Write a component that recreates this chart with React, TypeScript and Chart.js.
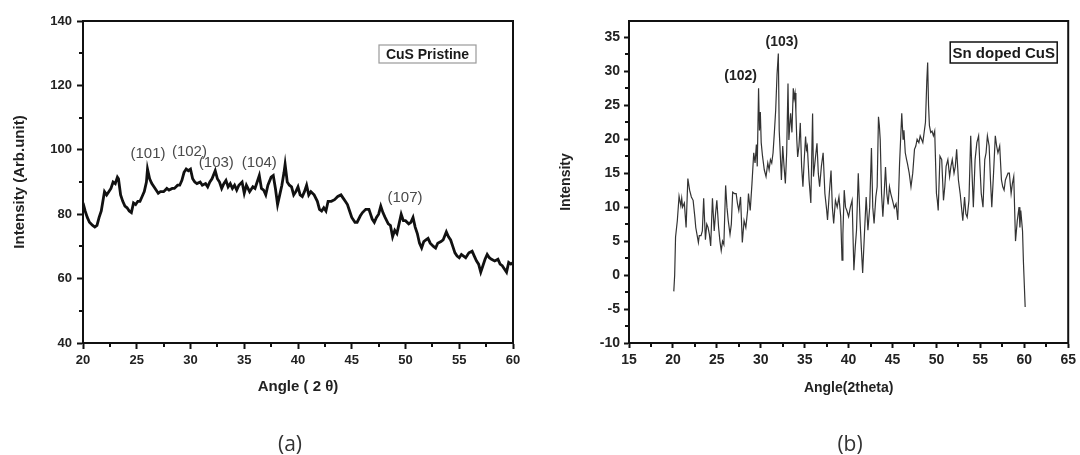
import React, { useEffect, useRef } from "react";
import { Chart, registerables } from "chart.js";

Chart.register(...registerables);

// ---------- data: (a) CuS Pristine ----------
const pristineAngle = [
  20.0, 20.2, 20.4, 20.6, 20.9, 21.1, 21.3, 21.5, 21.7, 21.9, 22.0, 22.2, 22.4, 22.6, 22.8, 23.0, 23.2, 23.3, 23.5, 23.7,
  23.9, 24.1, 24.3, 24.5, 24.7, 24.9, 25.1, 25.3, 25.5, 25.7, 25.9, 26.0, 26.2, 26.4, 26.6, 26.8, 27.0, 27.2, 27.5, 27.8,
  28.0, 28.3, 28.5, 28.8, 29.0, 29.2, 29.4, 29.6, 29.8, 30.0, 30.2, 30.4, 30.6, 30.9, 31.1, 31.4, 31.6, 31.8, 32.0, 32.3,
  32.5, 32.7, 32.9, 33.1, 33.3, 33.5, 33.7, 33.9, 34.1, 34.3, 34.5, 34.8, 35.0, 35.2, 35.5, 35.8, 36.0, 36.2, 36.4, 36.6,
  36.8, 37.0, 37.2, 37.5, 37.7, 37.9, 38.1, 38.3, 38.5, 38.7, 38.8, 39.0, 39.2, 39.4, 39.6, 39.8, 40.0, 40.2, 40.4, 40.6,
  40.8, 41.0, 41.2, 41.5, 41.8, 42.0, 42.2, 42.4, 42.6, 42.8, 43.1, 43.4, 43.7, 44.0, 44.2, 44.4, 44.6, 44.8, 45.0, 45.3,
  45.5, 45.8, 46.0, 46.3, 46.6, 46.9, 47.1, 47.3, 47.5, 47.7, 47.9, 48.1, 48.4, 48.6, 48.8, 49.0, 49.2, 49.4, 49.6, 49.8,
  50.0, 50.3, 50.5, 50.7, 50.9, 51.1, 51.3, 51.5, 51.7, 51.9, 52.1, 52.3, 52.6, 52.8, 53.0, 53.3, 53.5, 53.8, 54.0, 54.2,
  54.4, 54.6, 54.8, 55.0, 55.2, 55.4, 55.6, 55.9, 56.2, 56.4, 56.6, 56.8, 57.0, 57.2, 57.4, 57.6, 57.8, 58.0, 58.3, 58.6,
  58.8, 59.0, 59.2, 59.4, 59.6, 59.8, 60.0,
];
const pristineIntensity = [
  83.5, 81, 79, 77.5, 76.5, 76, 76.5, 79, 81, 85, 87, 86, 87, 88, 90, 89.5, 91.5, 91, 86, 84,
  82.5, 82, 81, 80.5, 83.5, 83, 84, 84, 85.5, 87, 90, 94, 91, 89.5, 88.5, 87.5, 86.5, 87, 87, 88,
  87.5, 88, 88, 89, 89, 90.5, 93, 94, 93.5, 94, 91, 90, 89.5, 90, 89, 89.5, 88.5, 90, 91, 93.5,
  91, 90, 88, 89.5, 90.5, 88.5, 89.5, 88, 89, 87.5, 89, 90, 86.5, 89, 87, 88.5, 88, 90, 92, 88,
  87.5, 86, 89, 91.5, 92, 88, 83, 86, 89, 93, 95.5, 90, 89, 88.5, 86, 87, 88.5, 86, 85.5, 87,
  89, 86, 87, 86, 84, 81.5, 81, 82, 81, 84, 84, 84.5, 85.5, 86, 85, 84, 83, 81, 79, 77.5,
  77.5, 79.5, 80.5, 81.5, 81.5, 78.5, 77.5, 79, 80, 82.5, 80.5, 79, 77, 76.5, 73, 75, 74, 77, 80, 78,
  78, 77, 77.5, 79, 76, 74, 71, 69.5, 71.5, 72, 72.5, 71, 70, 69.5, 71, 71.5, 72, 74.5, 73, 72,
  70, 68, 67, 66.5, 67.5, 67, 66.5, 68, 68.5, 67, 65.5, 64.5, 62, 64, 66, 67.5, 66.5, 66, 65.5, 66,
  64.5, 64, 63, 62, 65, 64.5, 65,
];
const pristinePeakLabels = ["(101)", "(102)", "(103)", "(104)", "(107)"];
const pristinePeakAngle = [26.05, 29.9, 32.4, 36.4, 49.95];
const pristinePeakIntensity = [98.6, 99.3, 95.9, 95.9, 85.2];

// ---------- data: (b) Sn doped CuS ----------
const dopedAngle = [
  20.1, 20.2, 20.3, 20.5, 20.7, 20.9, 21.0, 21.1, 21.3, 21.5, 21.7, 21.9, 22.1, 22.3, 22.5, 22.6, 22.9, 23.0, 23.2, 23.35,
  23.5, 23.7, 23.85, 24.0, 24.15, 24.3, 24.5, 24.7, 24.85, 25.0, 25.2, 25.35, 25.5, 25.65, 25.8, 26.0, 26.15, 26.3, 26.5, 26.65,
  26.8, 27.0, 27.2, 27.35, 27.5, 27.7, 27.9, 28.1, 28.3, 28.5, 28.6, 28.8, 29.0,
  29.2, 29.35, 29.5, 29.6, 29.75, 29.85, 29.95, 30.05, 30.2, 30.4, 30.6, 30.8, 30.95, 31.1, 31.25, 31.4, 31.55, 31.7, 31.85, 32.0,
  32.1, 32.25, 32.35, 32.5, 32.65, 32.8, 32.95, 33.1, 33.2, 33.3, 33.4, 33.55, 33.7, 33.8, 33.9, 34.0, 34.1, 34.2, 34.35, 34.5,
  34.65, 34.8, 34.95, 35.1, 35.2, 35.3, 35.5, 35.7, 35.9, 36.0, 36.2, 36.4, 36.55, 36.7, 36.9, 37.1, 37.3, 37.5, 37.6, 37.8,
  38.0, 38.15, 38.3, 38.5, 38.7, 38.9, 39.1, 39.25, 39.35, 39.5, 39.65, 39.8, 40.0, 40.2, 40.4, 40.6, 40.75, 40.9, 41.1, 41.3,
  41.45, 41.6, 41.8, 42.0, 42.2, 42.4, 42.6, 42.75, 42.9, 43.1, 43.25, 43.4, 43.5, 43.6, 43.75, 43.9, 44.05, 44.2, 44.35, 44.5,
  44.65, 44.8, 45.0, 45.2, 45.4, 45.6, 45.8, 46.05, 46.2, 46.3, 46.45, 46.6, 46.7, 46.9, 47.1,
  47.3, 47.5, 47.65, 47.8, 48.0, 48.15, 48.3, 48.45, 48.6, 48.75, 48.9, 49.0, 49.1, 49.2, 49.35, 49.5, 49.65,
  49.8, 50.0, 50.1, 50.2, 50.4, 50.6, 50.8, 50.95, 51.1, 51.3, 51.5, 51.65, 51.8, 52.0, 52.15, 52.3, 52.5, 52.7, 52.85, 53.0,
  53.2, 53.35, 53.5, 53.7, 53.9, 54.05, 54.2, 54.4, 54.6, 54.8, 54.95, 55.1, 55.3, 55.5, 55.65, 55.8, 56.0, 56.15, 56.3, 56.5,
  56.7, 56.85, 57.0, 57.2, 57.4, 57.55, 57.7, 57.85, 58.0, 58.15, 58.3, 58.5, 58.65, 58.8, 59.0, 59.2, 59.4, 59.5, 59.6, 59.8,
  59.9, 60.1,
];
const dopedIntensity = [
  -2.4, 0, 5.6, 8, 11.6, 10.2, 11.3, 10, 10.6, 7, 14.2, 12.5, 11.5, 11, 8.5, 7, 4.8, 5.8, 5.8, 6.5,
  11.3, 5.2, 7.5, 7, 6, 4.3, 11.3, 6.5, 9, 11, 7, 5, 3.6, 5, 4.5, 13.2, 10, 8, 6, 7.5,
  12.2, 12, 12, 10.5, 9.5, 11.5, 4.8, 8, 7, 9.5, 12, 9.5, 13.5,
  18, 16.5, 19.2, 16, 27.5, 21.3, 24, 19.5, 17.5, 15.5, 14.5, 16.5, 15.5, 17, 16.5, 18, 21, 24.3, 29.5, 32.6,
  21.3, 17, 14, 19, 16, 13.5, 18, 28.2, 19.9, 22, 23.8, 21, 27.5, 26, 26.8, 24, 20, 17.4, 19, 22.4,
  16, 13, 17, 20.4, 18.5, 19, 14, 10.6, 23.8, 14.5, 17, 19.4, 15, 13, 16, 18, 12, 9.6, 8.1, 12,
  15.4, 10, 7.6, 11, 10, 11.5, 8.6, 2.2, 6, 12.5, 10, 9.5, 8.6, 10, 11, 0.7, 4, 6.6, 15, 8.1,
  4, 0.3, 6, 11.5, 6.6, 10, 18.7, 10, 7.6, 11.5, 13, 23.3, 22, 19.9, 12, 8.6, 12, 15.9, 12, 10.4,
  13, 12, 11, 9.9, 10.5, 8.1, 16.4, 23.8, 20, 21.3, 18, 17, 16.4, 15, 13,
  15, 18.5, 19, 20, 19.5, 20.5, 20, 19.5, 21, 22.5, 28.5, 31.3, 25, 22, 21, 21.2, 20.5,
  21.2, 12, 11, 9.5, 17.5, 17, 11, 13, 16, 17, 14.5, 16, 17, 15, 16, 18.5, 14, 12, 10, 8,
  11.5, 9, 8.5, 11, 20.5, 15, 10, 17, 19.5, 20.5, 16, 12, 10, 17, 18, 20.5, 19, 14, 10, 15,
  20.5, 19, 18, 19, 14, 13, 12.5, 14, 14.5, 15, 15, 12, 13.5, 14.5, 5, 8, 10, 7, 9.5, 6.5,
  2, -4.7,
];
const dopedPeakLabels = ["(102)", "(103)"];
const dopedPeakAngle = [27.7, 32.4];
const dopedPeakIntensity = [29.3, 34.3];

const FONT = "'Liberation Sans', Arial, Helvetica, sans-serif";

type Deco = {
  xMinorStep: number;
  yMinorStep: number;
  peakLabels: string[];
  peakX: number[];
  peakY: number[];
  peakFont: string;
  peakColor: string;
  legendText: string;
  legendFont: string;
  legendRightOffset: number;
  legendTopOffset: number;
  legendW: number;
  legendH: number;
  legendBorder: string;
  legendBorderWidth: number;
};

function makeDecor(cfg: Deco) {
  return {
    id: "decor",
    afterDraw(chart: any) {
      const { ctx, chartArea: a, scales } = chart;
      const xs = scales.x;
      const ys = scales.y;
      ctx.save();
      // frame
      ctx.strokeStyle = "#111";
      ctx.lineWidth = 2;
      ctx.strokeRect(a.left, a.top, a.right - a.left, a.bottom - a.top);
      // minor ticks
      ctx.beginPath();
      for (let v = xs.min + cfg.xMinorStep; v < xs.max; v += cfg.xMinorStep * 2) {
        const px = Math.round(xs.getPixelForValue(v));
        ctx.moveTo(px, a.bottom);
        ctx.lineTo(px, a.bottom + 4);
      }
      const yStart = Math.ceil(ys.min / cfg.yMinorStep) * cfg.yMinorStep;
      for (let v = yStart; v <= ys.max; v += cfg.yMinorStep) {
        if (Math.abs(v / (cfg.yMinorStep * 2) - Math.round(v / (cfg.yMinorStep * 2))) < 1e-6) continue;
        const py = Math.round(ys.getPixelForValue(v));
        ctx.moveTo(a.left, py);
        ctx.lineTo(a.left - 4, py);
      }
      ctx.stroke();
      // peak labels
      ctx.fillStyle = cfg.peakColor;
      ctx.font = cfg.peakFont;
      ctx.textAlign = "center";
      ctx.textBaseline = "middle";
      cfg.peakLabels.forEach((t, i) => {
        ctx.fillText(t, xs.getPixelForValue(cfg.peakX[i]), ys.getPixelForValue(cfg.peakY[i]));
      });
      // legend box
      const bx = a.right - cfg.legendRightOffset - cfg.legendW;
      const by = a.top + cfg.legendTopOffset;
      ctx.fillStyle = "#fff";
      ctx.fillRect(bx, by, cfg.legendW, cfg.legendH);
      ctx.strokeStyle = cfg.legendBorder;
      ctx.lineWidth = cfg.legendBorderWidth;
      ctx.strokeRect(bx, by, cfg.legendW, cfg.legendH);
      ctx.fillStyle = "#1a1a1a";
      ctx.font = cfg.legendFont;
      ctx.fillText(cfg.legendText, bx + cfg.legendW / 2, by + cfg.legendH / 2 + 1);
      ctx.restore();
    },
  };
}

function PristineChart() {
  const ref = useRef<HTMLCanvasElement | null>(null);
  useEffect(() => {
    if (!ref.current) return;
    const data = pristineAngle.map((x, i) => ({ x, y: pristineIntensity[i] }));
    const chart = new Chart(ref.current, {
      type: "line",
      data: {
        datasets: [
          {
            data,
            borderColor: "#111",
            borderWidth: 2.8,
            pointRadius: 0,
            tension: 0,
            fill: false,
          },
        ],
      },
      options: {
        animation: false,
        responsive: false,
        devicePixelRatio: 1,
        layout: { padding: { left: 0, right: 27, top: 21, bottom: 0 } },
        plugins: { legend: { display: false }, tooltip: { enabled: false } },
        scales: {
          x: {
            type: "linear",
            min: 20,
            max: 60,
            ticks: { stepSize: 5, color: "#222", padding: 4, font: { family: FONT, size: 13, weight: "bold" } },
            grid: { drawOnChartArea: false, tickLength: 6, tickWidth: 2, tickColor: "#111" },
            border: { color: "#111", width: 2 },
            title: {
              display: true,
              text: "Angle ( 2 θ)",
              color: "#222",
              font: { family: FONT, size: 15, weight: "bold" },
              padding: { top: 0, bottom: 59 },
            },
            afterFit: (s: any) => {
              s.height = 112;
            },
          },
          y: {
            type: "linear",
            min: 40,
            max: 140,
            ticks: { stepSize: 20, color: "#222", padding: 5, font: { family: FONT, size: 13, weight: "bold" } },
            grid: { drawOnChartArea: false, tickLength: 6, tickWidth: 2, tickColor: "#111" },
            border: { color: "#111", width: 2 },
            title: {
              display: true,
              text: "Intensity (Arb.unit)",
              color: "#222",
              font: { family: FONT, size: 15, weight: "bold" },
              padding: { top: 11, bottom: 0 },
            },
            afterFit: (s: any) => {
              s.width = 83;
            },
          },
        },
      },
      plugins: [
        makeDecor({
          xMinorStep: 2.5,
          yMinorStep: 10,
          peakLabels: pristinePeakLabels,
          peakX: pristinePeakAngle,
          peakY: pristinePeakIntensity,
          peakFont: `15px ${FONT}`,
          peakColor: "#4a4a4a",
          legendText: "CuS Pristine",
          legendFont: `bold 14px ${FONT}`,
          legendRightOffset: 37,
          legendTopOffset: 24,
          legendW: 97,
          legendH: 18,
          legendBorder: "#9a9a9a",
          legendBorderWidth: 1.2,
        }),
      ],
    } as any);
    return () => chart.destroy();
  }, []);
  return <canvas ref={ref} width={540} height={455} style={{ position: "absolute", left: 0, top: 0 }} />;
}

function DopedChart() {
  const ref = useRef<HTMLCanvasElement | null>(null);
  useEffect(() => {
    if (!ref.current) return;
    const data = dopedAngle.map((x, i) => ({ x, y: dopedIntensity[i] }));
    const chart = new Chart(ref.current, {
      type: "line",
      data: {
        datasets: [
          {
            data,
            borderColor: "#333",
            borderWidth: 1.2,
            pointRadius: 0,
            tension: 0,
            fill: false,
          },
        ],
      },
      options: {
        animation: false,
        responsive: false,
        devicePixelRatio: 1,
        layout: { padding: { left: 0, right: 11, top: 21, bottom: 0 } },
        plugins: { legend: { display: false }, tooltip: { enabled: false } },
        scales: {
          x: {
            type: "linear",
            min: 15,
            max: 65,
            ticks: { stepSize: 5, color: "#222", padding: 4, font: { family: FONT, size: 14, weight: "bold" } },
            grid: { drawOnChartArea: false, tickLength: 5, tickWidth: 2, tickColor: "#111" },
            border: { color: "#111", width: 2 },
            title: {
              display: true,
              text: "Angle(2theta)",
              color: "#222",
              font: { family: FONT, size: 14, weight: "bold" },
              padding: { top: 0, bottom: 58 },
            },
            afterFit: (s: any) => {
              s.height = 112;
            },
          },
          y: {
            type: "linear",
            min: -10,
            max: 37.4,
            afterBuildTicks: (s: any) => {
              s.ticks = s.ticks.filter((t: any) => Math.abs(t.value / 5 - Math.round(t.value / 5)) < 1e-6);
            },
            ticks: {
              stepSize: 5,
              includeBounds: false,
              color: "#222",
              padding: 4,
              font: { family: FONT, size: 14, weight: "bold" },
            },
            grid: { drawOnChartArea: false, tickLength: 5, tickWidth: 2, tickColor: "#111" },
            border: { color: "#111", width: 2 },
            title: {
              display: true,
              text: "Intensity",
              color: "#222",
              font: { family: FONT, size: 14, weight: "bold" },
              padding: { top: 18, bottom: 0 },
            },
            afterFit: (s: any) => {
              s.width = 89;
            },
          },
        },
      },
      plugins: [
        makeDecor({
          xMinorStep: 2.5,
          yMinorStep: 2.5,
          peakLabels: dopedPeakLabels,
          peakX: dopedPeakAngle,
          peakY: dopedPeakIntensity,
          peakFont: `bold 14px ${FONT}`,
          peakColor: "#222",
          legendText: "Sn doped CuS",
          legendFont: `bold 15px ${FONT}`,
          legendRightOffset: 11,
          legendTopOffset: 21,
          legendW: 107,
          legendH: 21,
          legendBorder: "#111",
          legendBorderWidth: 1.5,
        }),
      ],
    } as any);
    return () => chart.destroy();
  }, []);
  return <canvas ref={ref} width={540} height={455} style={{ position: "absolute", left: 540, top: 0 }} />;
}

export default function App() {
  const caption: React.CSSProperties = {
    position: "absolute",
    top: 429,
    width: 60,
    textAlign: "center",
    fontFamily: "'Open Sans', 'Noto Sans', sans-serif",
    fontSize: 21,
    lineHeight: "28px",
    color: "#333",
  };
  return (
    <div style={{ position: "fixed", left: 0, top: 0, width: 1080, height: 455, background: "#fff", overflow: "hidden" }}>
      <PristineChart />
      <DopedChart />
      <div style={{ ...caption, left: 290 - 30 }}>(a)</div>
      <div style={{ ...caption, left: 850 - 30 }}>(b)</div>
    </div>
  );
}
